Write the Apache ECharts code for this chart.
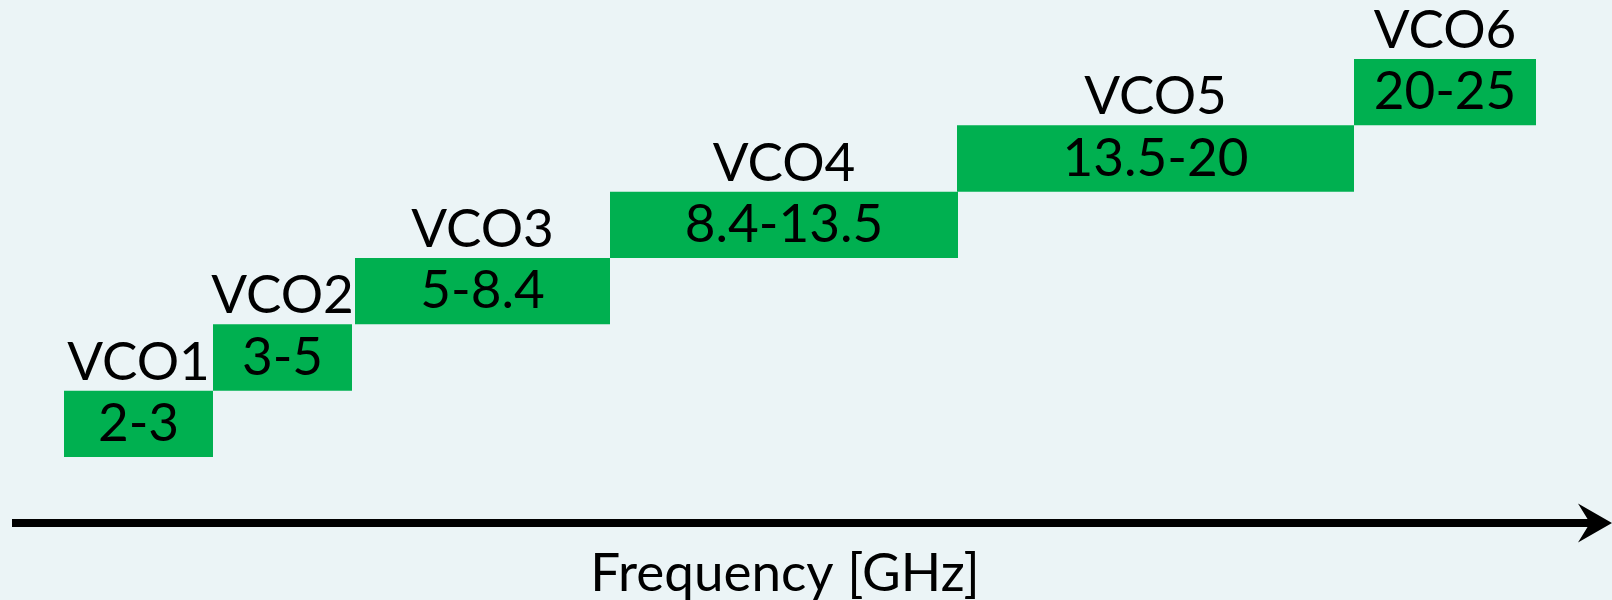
<!DOCTYPE html>
<html>
<head>
<meta charset="utf-8">
<script src="https://cdn.jsdelivr.net/npm/echarts@6/dist/echarts.min.js"></script>
<style>
  html, body { margin: 0; padding: 0; background: #EBF4F6; }
  #chart { width: 1612px; height: 600px; }
</style>
</head>
<body>
<div id="chart"></div>
<script>
// VCO bands (schematic diagram, not to frequency scale)
const vcoNames   = ['VCO1', 'VCO2', 'VCO3', 'VCO4', 'VCO5', 'VCO6'];
const freqRanges = ['2-3', '3-5', '5-8.4', '8.4-13.5', '13.5-20', '20-25'];
// span of each band along the schematic frequency axis (diagram units)
const spanStart  = [64, 213, 355, 610, 957, 1354];
const spanEnd    = [213, 352, 610, 958, 1354, 1536];
// stair level of each band
const levels     = [0, 1, 2, 3, 4, 5];
const axisTitle  = 'Frequency [GHz]';

const FONT = 'Lato';
const GREEN = '#00B050';

const data = vcoNames.map((n, i) => [spanStart[i], spanEnd[i], levels[i], n, freqRanges[i]]);

const chart = echarts.init(document.getElementById('chart'));
chart.setOption({
  backgroundColor: '#EBF4F6',
  animation: false,
  grid: { left: 12, right: 12, top: 59, bottom: 143 },
  xAxis: {
    type: 'value', min: 12, max: 1600,
    offset: 66,
    splitLine: { show: false },
    axisTick: { show: false },
    axisLabel: { show: false },
    axisLine: {
      show: true,
      onZero: false,
      lineStyle: { color: '#000', width: 8, cap: 'butt' },
      symbol: ['none', 'path://M19.5,0 L39,34 L19.5,22 L0,34 Z'],
      symbolSize: [39, 34],
      symbolOffset: [0, -5]
    }
  },
  yAxis: {
    type: 'value', min: 0, max: 6,
    show: false
  },
  graphic: [{
    type: 'text',
    x: 785, y: 574,
    style: { text: axisTitle, font: '53px ' + FONT, fill: '#000',
             align: 'center', verticalAlign: 'middle' }
  }],
  series: [{
    type: 'custom',
    data: data,
    encode: { x: [0, 1], y: 2 },
    renderItem: function (params, api) {
      const x0 = api.value(0), x1 = api.value(1), lv = api.value(2);
      const p0 = api.coord([x0, lv + 1]);
      const p1 = api.coord([x1, lv]);
      const w = p1[0] - p0[0], h = p1[1] - p0[1];
      const cx = p0[0] + w / 2;
      const d = data[params.dataIndex];
      return {
        type: 'group',
        children: [
          { type: 'rect', shape: { x: p0[0], y: p0[1], width: w, height: h },
            style: { fill: GREEN } },
          { type: 'text', x: cx, y: p0[1] + h / 2,
            style: { text: d[4], font: '53px ' + FONT, fill: '#000',
                     align: 'center', verticalAlign: 'middle' } },
          { type: 'text', x: cx, y: p0[1] - 28,
            style: { text: d[3], font: '53px ' + FONT, fill: '#000',
                     align: 'center', verticalAlign: 'middle' } }
        ]
      };
    }
  }]
});
</script>
</body>
</html>
